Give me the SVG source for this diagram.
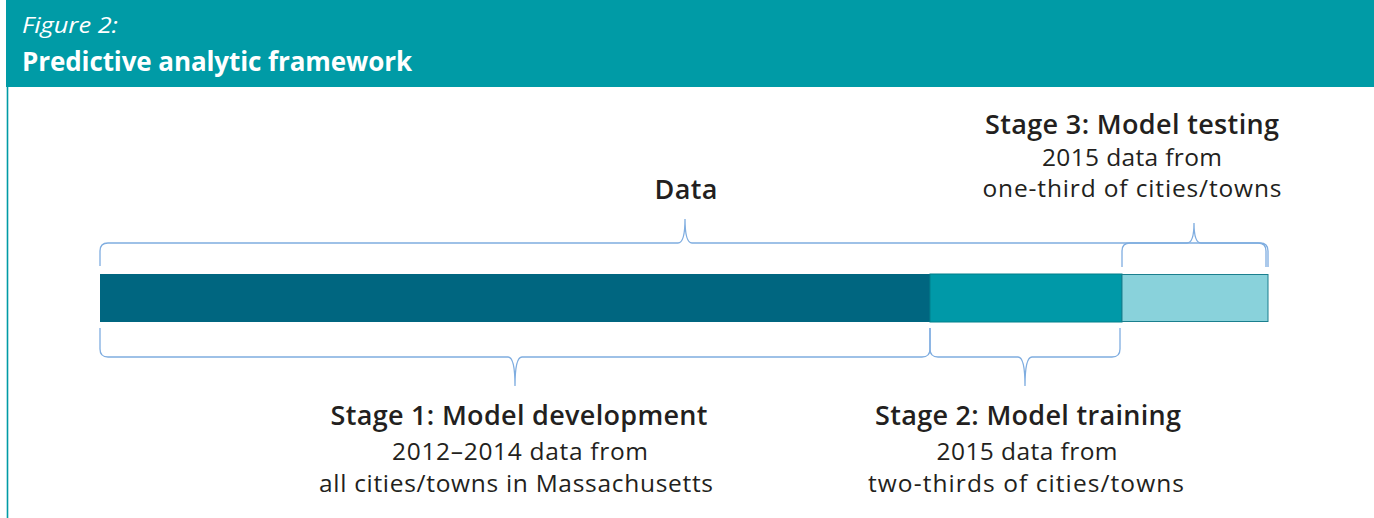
<svg xmlns="http://www.w3.org/2000/svg" width="1374" height="518" viewBox="0 0 1374 518">
  <style>
    .hdr { fill: #ffffff; font-family: "Open Sans", Lato, sans-serif; }
    .title { fill: #231f20; font-family: "Open Sans", Lato, sans-serif; font-weight: 600; font-size: 27px; text-anchor: middle; }
    .sub { fill: #231f20; font-family: "Open Sans", Lato, sans-serif; font-size: 24.5px; text-anchor: middle; }
    .brace { fill: none; stroke: #7fade0; stroke-width: 1.3; }
  </style>
  <rect x="0" y="0" width="1374" height="518" fill="#ffffff"/>

  <!-- header band -->
  <g id="header">
    <rect x="6" y="0" width="1368" height="87" fill="#009ba6"/>
    <line x1="7.5" y1="87" x2="7.5" y2="518" stroke="#009ba6" stroke-width="1.6"/>
    <text class="hdr" x="22" y="33" font-size="22" font-style="italic" textLength="96" lengthAdjust="spacingAndGlyphs">Figure 2:</text>
    <text class="hdr" x="22" y="71" font-size="26" font-weight="bold" textLength="390" lengthAdjust="spacing">Predictive analytic framework</text>
  </g>

  <!-- timeline bar -->
  <g id="bar">
    <rect x="100" y="274" width="830" height="48" fill="#006680"/>
    <rect x="930" y="274" width="192" height="48" fill="#0099a8" stroke="#00808c" stroke-width="1"/>
    <rect x="1122" y="274.5" width="146" height="47" fill="#89d2db" stroke="#1a7f8e" stroke-width="1"/>
  </g>

  <!-- braces -->
  <g id="connectors">
    <path class="brace" d="M100,266 L100,251 Q100,243 108,243 L678,243 Q685,243 685,219 Q685,243 692,243 L1258,243 Q1266,243 1266,251 L1266,267"/>
    <path class="brace" d="M1122,267 L1122,251 Q1122,243 1130,243 L1187,243 Q1194,243 1194,223 Q1194,243 1201,243 L1260,243 Q1268,243 1268,251 L1268,267"/>
    <path class="brace" d="M100,328 L100,349 Q100,357 108,357 L508,357 Q515,357 515,386 Q515,357 522,357 L922,357 Q930,357 930,349 L930,328"/>
    <path class="brace" d="M930,328 L930,349 Q930,357 938,357 L1018,357 Q1025,357 1025,386 Q1025,357 1032,357 L1112,357 Q1120,357 1120,349 L1120,328"/>
  </g>

  <g id="data-label">
    <text class="title" x="686" y="199" font-size="28" textLength="63" lengthAdjust="spacing">Data</text>
  </g>

  <g id="stage3">
    <text class="title" x="1132" y="134" textLength="294" lengthAdjust="spacing">Stage 3: Model testing</text>
    <text class="sub" x="1132" y="166" textLength="180" lengthAdjust="spacing">2015 data from</text>
    <text class="sub" x="1132" y="197" textLength="299" lengthAdjust="spacing">one-third of cities/towns</text>
  </g>

  <g id="stage1">
    <text class="title" x="519" y="425" textLength="377" lengthAdjust="spacing">Stage 1: Model development</text>
    <text class="sub" x="520" y="460" textLength="256" lengthAdjust="spacing">2012–2014 data from</text>
    <text class="sub" x="516" y="492" textLength="394" lengthAdjust="spacing">all cities/towns in Massachusetts</text>
  </g>

  <g id="stage2">
    <text class="title" x="1028" y="425" textLength="306" lengthAdjust="spacing">Stage 2: Model training</text>
    <text class="sub" x="1027" y="460" textLength="181" lengthAdjust="spacing">2015 data from</text>
    <text class="sub" x="1026" y="492" textLength="316" lengthAdjust="spacing">two-thirds of cities/towns</text>
  </g>
</svg>
